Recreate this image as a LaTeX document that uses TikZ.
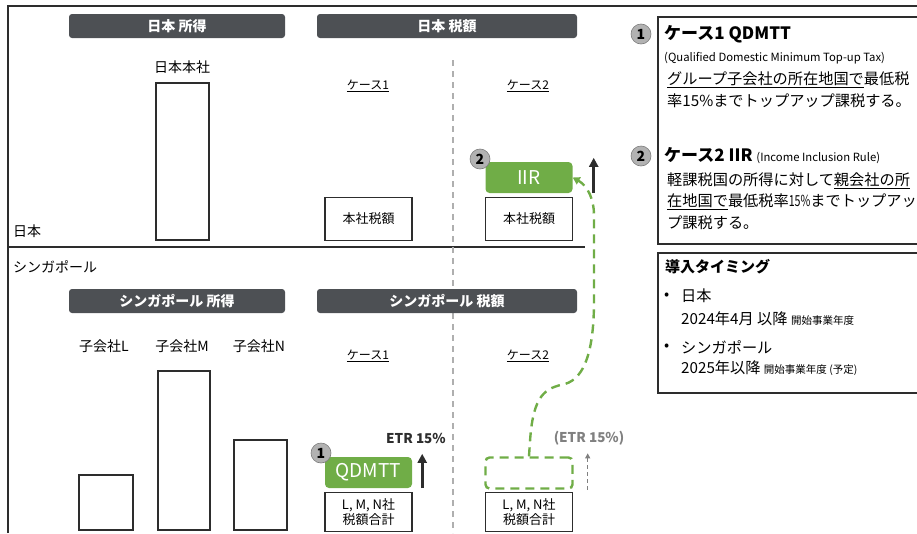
\documentclass[tikz,border=0pt]{standalone}
\usepackage{fontspec}
\setmainfont{Noto Sans CJK JP}
\usepackage{tikz}
\usetikzlibrary{positioning}
\usetikzlibrary{arrows.meta}

\definecolor{barcol}{RGB}{77,80,84}
\definecolor{topgreen}{RGB}{112,173,71}
\definecolor{numfill}{RGB}{178,178,178}
\definecolor{inkgray}{RGB}{45,45,45}
\definecolor{softgray}{RGB}{128,128,128}
\definecolor{splitgray}{RGB}{175,175,175}

\newcommand{\fsz}[1]{\fontsize{#1}{#1}\selectfont}
\newcommand{\narrowpct}{\scalebox{0.7}[1]{15\%}}

\tikzset{
  header/.style={fill=barcol, rounded corners=3pt, text=white, font=\fsz{14}\bfseries, inner sep=0pt, minimum height=24},
  income/.style={draw=inkgray, line width=1.6pt, anchor=south west, inner sep=0pt},
  taxbox/.style={draw=inkgray, line width=1.6pt, minimum width=87, minimum height=43, inner sep=0pt, align=center, font=\fontsize{13}{15}\selectfont},
  topup/.style={fill=topgreen, rounded corners=4pt, text=white, font=\fsz{19}, minimum width=87, minimum height=31, inner sep=0pt},
  numdot/.style={circle, fill=numfill, draw=numfill!70!black, line width=0.6pt, minimum size=20, inner sep=0pt, font=\fsz{14}\bfseries},
  lbl/.style={font=\fsz{14}, inner sep=0pt},
  caselbl/.style={font=\fsz{12}, inner sep=0pt},
  rise/.style={draw=inkgray, line width=2.6pt, -{Triangle[width=9pt,length=9pt]}},
  note/.style={anchor=west, font=\fsz{15.2}, inner sep=0pt},
}

\begin{document}
\begin{tikzpicture}[x=1pt, y=-1pt]
\useasboundingbox (0,0) rectangle (917,533);

% frame and split lines
\draw[inkgray, line width=2pt] (8,533) -- (8,6) -- (917,6);
\draw[inkgray, line width=1.3pt] (8,247) -- (585,247);
\draw[splitgray, line width=1.2pt, dash pattern=on 6pt off 5pt] (453,60) -- (453,533);

% headers
\node[header, minimum width=216] (jpinc) at (177,26) {日本 所得};
\node[header, minimum width=260] (jptax) at (447,26) {日本 税額};
\node[header, minimum width=216] (sginc) at (177,301) {シンガポール 所得};
\node[header, minimum width=260] (sgtax) at (447,301) {シンガポール 税額};

\node[lbl, anchor=west] (jpname) at (13,231) {日本};
\node[lbl, anchor=west] (sgname) at (13,267) {シンガポール};

% income bars
\node[income, minimum width=53, minimum height=157] (hq) at (155,241) {};
\node[lbl] (hqname) at (182,67) {日本本社};
\node[income, minimum width=54, minimum height=55] (subl) at (78,531) {};
\node[income, minimum width=52, minimum height=159] (subm) at (157,531) {};
\node[income, minimum width=53, minimum height=90] (subn) at (233,531) {};
\node[lbl] (sublname) at (104,346) {子会社L};
\node[lbl] (submname) at (182,346) {子会社M};
\node[lbl] (subnname) at (259,346) {子会社N};

% japan tax
\node[caselbl] (jpcase1) at (368,86) {\underline{ケース1}};
\node[caselbl] (jpcase2) at (528,86) {\underline{ケース2}};
\node[taxbox] (jptax1) at (368.5,219) {本社税額};
\node[taxbox] (jptax2) at (529,219) {本社税額};
\node[topup] (iir) at (529,177.5) {IIR};
\node[numdot] (n2) at (480,159) {2};
\draw[rise] ([xshift=21pt]iir.south east) -- ([xshift=21pt, yshift=4pt]iir.north east);

% singapore tax
\node[caselbl] (sgcase1) at (368,356) {\underline{ケース1}};
\node[caselbl] (sgcase2) at (528,356) {\underline{ケース2}};
\node[taxbox, minimum height=39] (sgtax1) at (368.5,512) {L, M, N社\\税額合計};
\node[topup] (qdmtt) at (368.5,472.5) {QDMTT};
\node[numdot] (n1) at (321,453) {1};
\draw[rise] ([xshift=10pt]qdmtt.south east) -- ([xshift=10pt, yshift=3pt]qdmtt.north east);
\node[font=\fsz{13.5}\bfseries, text=inkgray] (etr) at (416,438) {ETR 15\%};

\node[taxbox, minimum height=39] (sgtax2) at (529,512) {L, M, N社\\税額合計};
\node[topup, fill=none, draw=topgreen, line width=2.4pt, dash pattern=on 9pt off 6pt] (ghost) at (529,473) {};
\draw[softgray, line width=1.2pt, dash pattern=on 4pt off 3pt, -{Triangle[width=5pt,length=5pt]}] ([xshift=14pt]ghost.south east) -- ([xshift=14pt, yshift=3pt]ghost.north east);
\node[font=\fsz{13.5}\bfseries, text=softgray] (etrghost) at (589,438) {(ETR 15\%)};

\draw[topgreen, line width=2.4pt, dash pattern=on 9pt off 6pt, -{Triangle[width=8pt,length=7pt]}] (ghost.north) -- ++(1,-15) .. controls (533,395) and (545,388) .. (565,384) .. controls (585,378) and (594,350) .. (594,300) -- (594,215) .. controls (594,200) and (588,186) .. (iir.east);

% right notes
\draw[inkgray, line width=1.6pt] (658,17) rectangle (925,244);
\node[numdot] (r1) at (641,34) {1};
\node[note, font=\fsz{17}\bfseries] (c1head) at (664,34) {ケース1 QDMTT};
\node[note, font=\fsz{11.3}] (c1full) at (664,58) {(Qualified Domestic Minimum Top-up Tax)};
\node[note] (c1a) at (667,80) {\underline{グループ子会社の所在地国で}最低税};
\node[note] (c1b) at (667,101) {率15\%までトップアップ課税する。};
\node[numdot] (r2) at (641,156) {2};
\node[note, font=\fsz{17}\bfseries] (c2head) at (664,156) {ケース2 IIR {\fsz{11.3}\mdseries (Income Inclusion Rule)}};
\node[note] (c2a) at (667,181) {軽課税国の所得に対して\underline{親会社の所}};
\node[note] (c2b) at (667,202) {\underline{在地国で}最低税率\narrowpct までトップアッ};
\node[note] (c2c) at (667,223) {プ課税する。};

\draw[inkgray, line width=1.6pt] (658,253) rectangle (925,393);
\node[note, font=\fsz{15}\bfseries] (when) at (665,267) {導入タイミング};
\node[note] (b1) at (664,296) {•};
\node[note] (jpwhen) at (681,296) {日本};
\node[note] (jpdate) at (681,319) {2024年4月 以降 {\fsz{10.5}開始事業年度}};
\node[note] (b2) at (664,347) {•};
\node[note] (sgwhen) at (681,347) {シンガポール};
\node[note] (sgdate) at (681,368) {2025年以降 {\fsz{10.5}開始事業年度 (予定)}};

\end{tikzpicture}
\end{document}
